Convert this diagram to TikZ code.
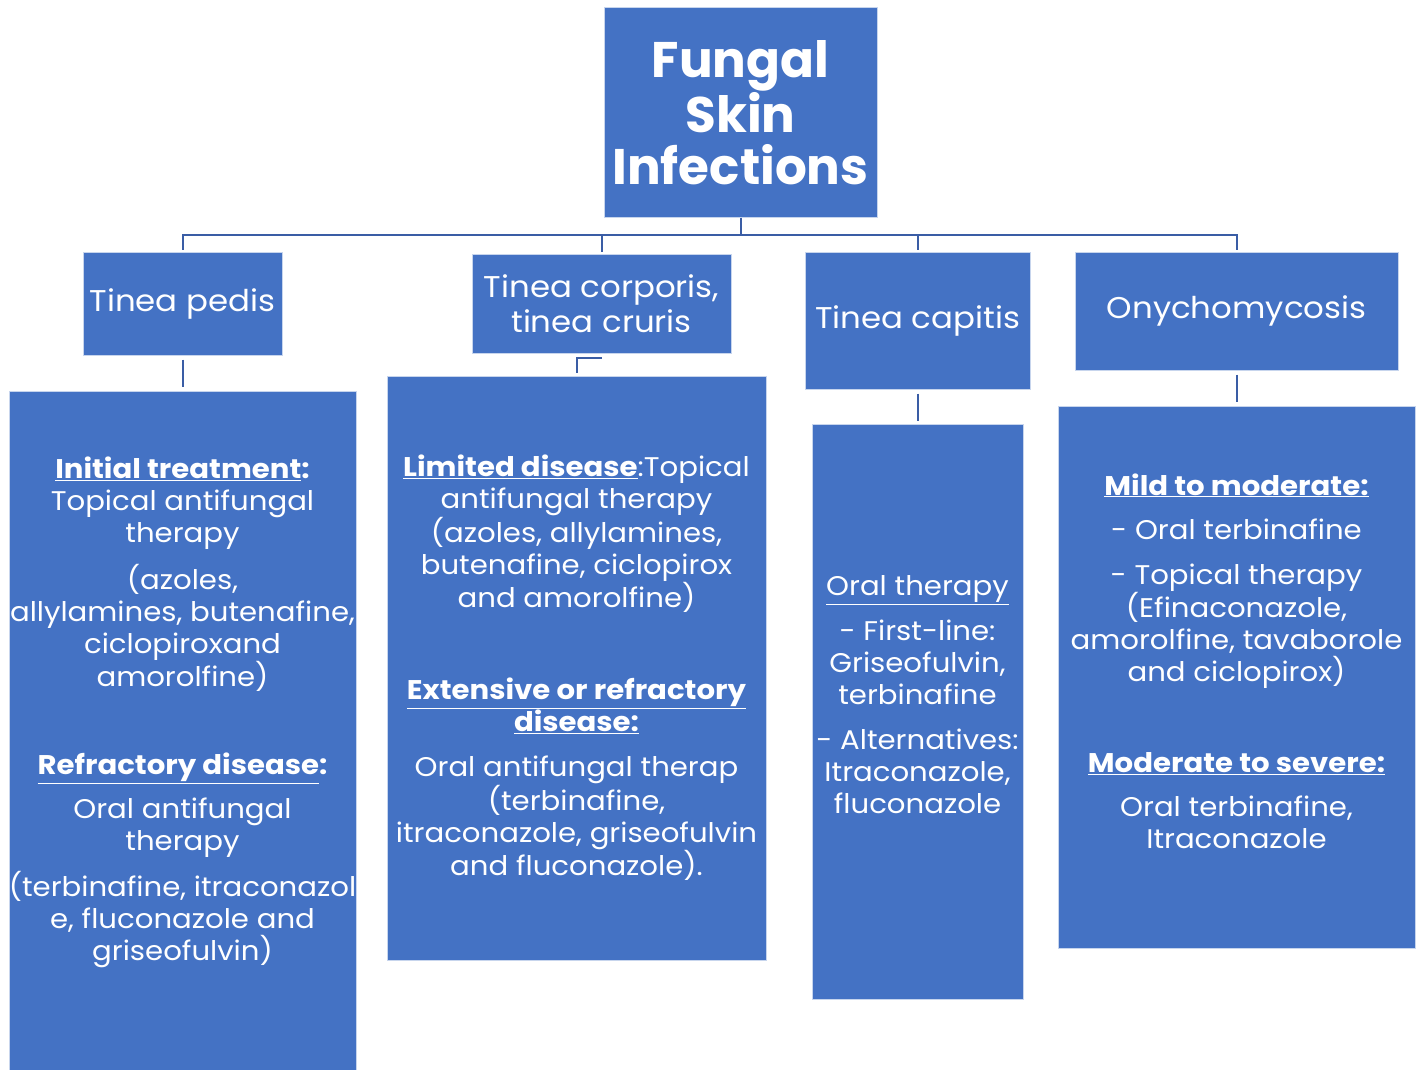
\documentclass[tikz,border=0pt]{standalone}
\usepackage{fontspec}
\setmainfont{Poppins}[FakeStretch=1.08]
\newfontfamily\titlefont{Poppins}
\usetikzlibrary{positioning}

\definecolor{boxblue}{HTML}{4472C4}
\definecolor{linkblue}{HTML}{3A5DA5}

\tikzset{
    box/.style={draw=white!70!boxblue, line width=1pt, fill=boxblue, inner sep=0pt,
        text=white, align=center},
    head/.style={box, font=\fontsize{30}{35}\selectfont},
    txt/.style={text=white, align=center, inner sep=0pt, font=\fontsize{27}{32}\selectfont},
    link/.style={draw=linkblue, line width=2pt},
}

\begin{document}
\begin{tikzpicture}[x=1pt, y=-1pt]
        \useasboundingbox (0,0) rectangle (1421,1070);

        % Title
        \node[box, minimum width=273, minimum height=209,
            font=\titlefont\bfseries\fontsize{50}{52}\selectfont] (title) at (740.5,112.5) {Fungal\\Skin\\Infections};

        % Infection types
        \node[head, minimum width=199, minimum height=103] (pedis) at (182.5,303.5) {Tinea pedis};
        \node[head, minimum width=259, minimum height=99] (corporis) at (601.5,303.5) {Tinea corporis,\\tinea cruris};
        \node[head, minimum width=225, minimum height=137] (capitis) at (917.5,320.5) {Tinea capitis};
        \node[head, minimum width=323, minimum height=118] (onycho) at (1236.5,311) {Onychomycosis};

        % Treatment boxes
        \node[box, minimum width=347, minimum height=679] (pedisbox) at (182.5,730.5) {};
        \node[box, minimum width=379, minimum height=584] (corporisbox) at (576.5,668) {};
        \node[box, minimum width=211, minimum height=575] (capitisbox) at (917.5,711.5) {};
        \node[box, minimum width=357, minimum height=542] (onychobox) at (1236.5,677) {};

        % Treatment texts
        \node[txt] (pedistext) at ([yshift=18pt]pedisbox.center) {%
            \underline{\textbf{Initial treatment}}\textbf{:}\\
            Topical antifungal\\
            therapy\\[13pt]
            (azoles,\\
            allylamines, butenafine,\\
            ciclopiroxand\\
            amorolfine)\\[56pt]
            \underline{\textbf{Refractory disease}}\textbf{:}\\[12pt]
            Oral antifungal\\
            therapy\\[13pt]
            (terbinafine, itraconazol\\
            e, fluconazole and\\
            griseofulvin)};
        \node[txt] (corporistext) at (corporisbox.center) {%
            \underline{\textbf{Limited disease}}:Topical\\
            antifungal therapy\\
            (azoles, allylamines,\\
            butenafine, ciclopirox\\
            and amorolfine)\\[60pt]
            \underline{\textbf{Extensive or refractory}}\\
            \underline{\textbf{disease:}}\\[13pt]
            Oral antifungal therap\\
            (terbinafine,\\
            itraconazole, griseofulvin\\
            and fluconazole).};
        \node[txt] (capitistext) at ([yshift=17pt]capitisbox.center) {%
            \underline{Oral therapy}\\[13pt]
            - First-line:\\
            Griseofulvin,\\
            terbinafine\\[13pt]
            - Alternatives:\\
            Itraconazole,\\
            fluconazole};
        \node[txt] (onychotext) at ([yshift=16pt]onychobox.center) {%
            \underline{\textbf{Mild to moderate:}}\\[12pt]
            - Oral terbinafine\\[13pt]
            - Topical therapy\\
            (Efinaconazole,\\
            amorolfine, tavaborole\\
            and ciclopirox)\\[59pt]
            \underline{\textbf{Moderate to severe:}}\\[12pt]
            Oral terbinafine,\\
            Itraconazole};

        % Connectors
        \coordinate (bus) at (740.5,235);
        \draw[link] (title.south) -- (bus);
        \foreach \n in {pedis,corporis,capitis,onycho}
            \draw[link] ([yshift=2pt]\n.north) -- (\n.north |- bus) -- (bus);
        \draw[link, shorten <=4pt, shorten >=4pt] (pedis.south) -- (pedisbox.north);
        \draw[link] ([yshift=-4pt]corporis.south) -| ([yshift=3pt]corporisbox.north);
        \draw[link, shorten <=4pt, shorten >=3pt] (capitis.south) -- (capitisbox.north);
        \draw[link, shorten <=4pt, shorten >=4pt] (onycho.south) -- (onychobox.north);

    \end{tikzpicture}
\end{document}
